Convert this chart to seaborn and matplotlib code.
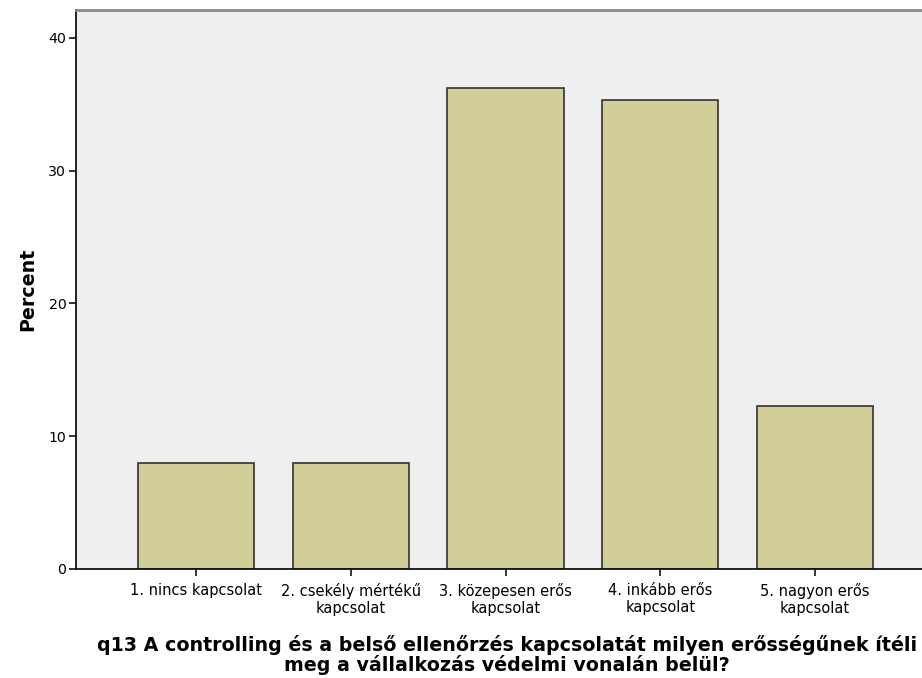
import matplotlib
matplotlib.use("Agg")
import matplotlib.pyplot as plt
import seaborn as sns
import pandas as pd

categories = ["1. nincs kapcsolat",
              "2. csekély mértékű\nkapcsolat",
              "3. közepesen erős\nkapcsolat",
              "4. inkább erős\nkapcsolat",
              "5. nagyon erős\nkapcsolat"]
percent = [8.0, 8.0, 36.2, 35.3, 12.3]
yticks = [0, 10, 20, 30, 40]

xlabel = ("q13 A controlling és a belső ellenőrzés kapcsolatát milyen erősségűnek ítéli\n"
          "meg a vállalkozás védelmi vonalán belül?")

sns.set_style("ticks")
plt.rcParams['font.family'] = ['DejaVu Sans']

df = pd.DataFrame({"cat": categories, "pct": percent})

fig = plt.figure(figsize=(9.22, 6.78), dpi=100)
ax = fig.add_axes([76 / 922, 1 - 569 / 678, 1 - 76 / 922, (569 - 10) / 678])
ax.set_facecolor("#efefef")

sns.barplot(data=df, x="cat", y="pct", color="#d2ce98", saturation=1,
            width=0.75, edgecolor="#333333", linewidth=1.2, ax=ax)

ax.set_xlim(-0.774, 4.69)
ax.set_ylim(0, 42.1)
ax.set_yticks(yticks)
ax.tick_params(axis="both", length=5, width=1.2, color="#111111",
               labelcolor="#000000")
ax.tick_params(axis="y", labelsize=10.2, pad=2)
ax.tick_params(axis="x", pad=5)
ax.set_xticks(range(len(categories)))
ax.set_xticklabels(categories, fontsize=10.5, linespacing=1.2)

for s in ["left", "bottom"]:
    ax.spines[s].set_color("#111111")
    ax.spines[s].set_linewidth(1.3)
ax.spines["right"].set_visible(False)
ax.spines["top"].set_color("#8a8a8a")
ax.spines["top"].set_linewidth(2)

ax.set_xlabel("")
ax.set_ylabel("Percent", fontsize=13.7, fontweight="bold", labelpad=8,
              color="#000000")

fig.text(507 / 922, 1 - 655 / 678, xlabel, ha="center", va="center",
         fontsize=13.7, fontweight="bold", linespacing=0.95, color="#000000")

fig.savefig("out.png", dpi=100)
